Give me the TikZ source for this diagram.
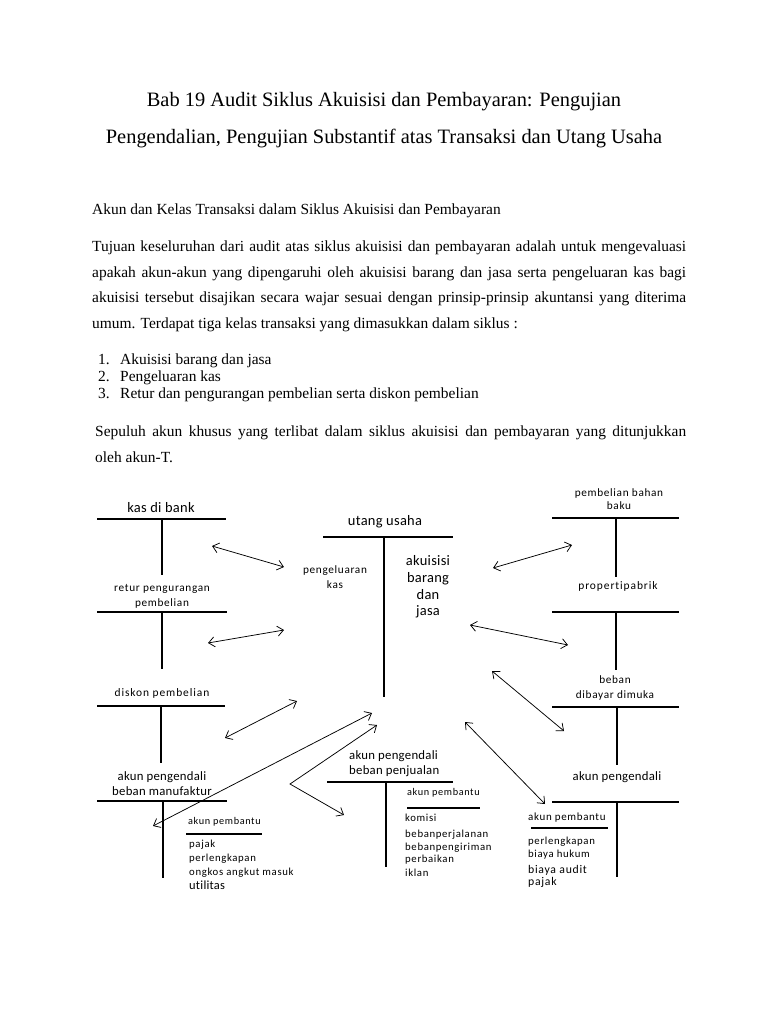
\documentclass[tikz,border=0pt]{standalone}
\usepackage{fontspec}
\setmainfont{Liberation Serif}
\newfontfamily\labA[LetterSpace=2,Ligatures={NoCommon}]{Carlito}
\newfontfamily\labB[LetterSpace=6,Ligatures={NoCommon}]{Carlito}
\newfontfamily\labC[LetterSpace=8,Ligatures={NoCommon}]{Carlito}
\usetikzlibrary{arrows.meta}
\tikzset{
  titletxt/.style={inner sep=0pt, anchor=base, font=\fontsize{20.5}{24}\selectfont},
  bodytxt/.style={inner sep=0pt, anchor=base west, font=\fontsize{15.5}{18}\selectfont},
  biglbl/.style={inner sep=0pt, anchor=mid, font=\labA\fontsize{14.5}{16}\selectfont},
  medlbl/.style={inner sep=0pt, anchor=mid, font=\labA\fontsize{12.8}{15}\selectfont},
  smalllbl/.style={inner sep=0pt, anchor=mid, font=\labB\fontsize{11.3}{13}\selectfont},
  subhead/.style={inner sep=0pt, anchor=mid west, font=\labB\fontsize{10.3}{12}\selectfont},
  itemlbl/.style={inner sep=0pt, anchor=mid west, font=\labB\fontsize{10.8}{12}\selectfont},
  tline/.style={line width=1.6bp},
  sline/.style={line width=1.3bp},
  arr/.style={line width=0.75bp, {Straight Barb[length=6bp,width=10bp]}-{Straight Barb[length=6bp,width=10bp]}}
}
\begin{document}
\begin{tikzpicture}[x=1bp,y=-1bp]
\useasboundingbox (0,0) rectangle (768,1024);
\fill[white] (0,0) rectangle (768,1024);

% ---------------- header text ----------------
\node[titletxt] (t1) at (384,106) {Bab 19 Audit Siklus Akuisisi dan Pembayaran: Pengujian};
\node[titletxt] (t2) at (384,143) {Pengendalian, Pengujian Substantif atas Transaksi dan Utang Usaha};

\node[bodytxt] (sub) at (92,214) {Akun dan Kelas Transaksi dalam Siklus Akuisisi dan Pembayaran};

\node[bodytxt] (p1) at (92,251) {\makebox[594bp][s]{Tujuan keseluruhan dari audit atas siklus akuisisi dan pembayaran adalah untuk mengevaluasi}};
\node[bodytxt] (p2) at (92,277) {\makebox[594bp][s]{apakah akun-akun yang dipengaruhi oleh akuisisi barang dan jasa serta pengeluaran kas bagi}};
\node[bodytxt] (p3) at (92,302) {\makebox[594bp][s]{akuisisi tersebut disajikan secara wajar sesuai dengan prinsip-prinsip akuntansi yang diterima}};
\node[bodytxt] (p4) at (92,328) {umum. Terdapat tiga kelas transaksi yang dimasukkan dalam siklus :};

\node[bodytxt] (n1) at (98,364) {1.};
\node[bodytxt] (l1) at (120,364) {Akuisisi barang dan jasa};
\node[bodytxt] (n2) at (98,381) {2.};
\node[bodytxt] (l2) at (120,381) {Pengeluaran kas};
\node[bodytxt] (n3) at (98,398) {3.};
\node[bodytxt] (l3) at (120,398) {Retur dan pengurangan pembelian serta diskon pembelian};

\node[bodytxt] (s1) at (95,436) {\makebox[591bp][s]{Sepuluh akun khusus yang terlibat dalam siklus akuisisi dan pembayaran yang ditunjukkan}};
\node[bodytxt] (s2) at (95,462) {oleh akun-T.};

% ---------------- left column T-accounts ----------------
\node[biglbl] (kas) at (161,510) {kas di bank};
\draw[tline] (97,519) -- (226,519);
\draw[tline] (162,519) -- (162,575);

\node[smalllbl] (ret1) at (162,589) {retur pengurangan};
\node[smalllbl] (ret2) at (162,604) {pembelian};
\draw[tline] (97,612) -- (227,612);
\draw[tline] (162,612) -- (162,669);

\node[smalllbl, font=\labC\fontsize{11.5}{13}\selectfont] (disk) at (162,694) {diskon pembelian};
\draw[tline] (97,706) -- (225,706);
\draw[tline] (161,706) -- (161,763);

\node[medlbl] (man1) at (162,778) {akun pengendali};
\node[medlbl] (man2) at (162,793) {beban manufaktur};
\draw[tline] (97,801) -- (227,801);
\draw[tline] (163,801) -- (163,878);

\node[subhead] (lpb) at (188,822) {akun pembantu};
\draw[sline] (186,834) -- (262,834);
\node[itemlbl] (li1) at (189,845) {pajak};
\node[itemlbl] (li2) at (189,859) {perlengkapan};
\node[itemlbl] (li3) at (189,873) {ongkos angkut masuk};
\node[itemlbl, font=\labA\fontsize{12.5}{14}\selectfont] (li4) at (189,887) {utilitas};

% ---------------- centre T-account ----------------
\node[biglbl] (utang) at (385,523) {utang usaha};
\draw[tline] (323,537) -- (453,537);
\draw[tline] (384,537) -- (384,697);

\node[smalllbl] (pk1) at (335,571) {pengeluaran};
\node[smalllbl] (pk2) at (335,586) {kas};
\node[biglbl] (ak1) at (428,563) {akuisisi};
\node[biglbl] (ak2) at (428,580) {barang};
\node[biglbl] (ak3) at (428,597) {dan};
\node[biglbl] (ak4) at (428,613) {jasa};

% ---------------- middle bottom T-account ----------------
\node[medlbl, anchor=mid west] (pj1) at (349,757) {akun pengendali};
\node[medlbl, anchor=mid west] (pj2) at (349,772) {beban penjualan};
\draw[tline] (327,782) -- (453,782);
\draw[tline] (386,782) -- (386,867);

\node[subhead] (mpb) at (407,793) {akun pembantu};
\draw[sline] (407,808) -- (480,808);
\node[itemlbl] (mi1) at (405,819) {komisi};
\node[itemlbl] (mi2) at (405,835) {bebanperjalanan};
\node[itemlbl] (mi3) at (405,848) {bebanpengiriman};
\node[itemlbl] (mi4) at (405,860) {perbaikan};
\node[itemlbl] (mi5) at (405,874) {iklan};

% ---------------- right column T-accounts ----------------
\node[smalllbl] (pb1) at (619,494) {pembelian bahan};
\node[smalllbl] (pb2) at (619,507) {baku};
\draw[tline] (552,518) -- (679,518);
\draw[tline] (616,518) -- (616,577);

\node[smalllbl, font=\labC\fontsize{11.5}{13}\selectfont] (prop) at (618,587) {propertipabrik};
\draw[tline] (552,612) -- (679,612);
\draw[tline] (616,612) -- (616,670);

\node[smalllbl] (bb1) at (615,681) {beban};
\node[smalllbl] (bb2) at (615,696) {dibayar dimuka};
\draw[tline] (552,707) -- (679,707);
\draw[tline] (617,707) -- (617,765);

\node[medlbl] (rpe) at (617,778) {akun pengendali};
\draw[tline] (552,802) -- (679,802);
\draw[tline] (617,802) -- (617,877);

\node[itemlbl, font=\labB\fontsize{11}{13}\selectfont] (rpb) at (528,818) {akun pembantu};
\draw[sline] (531,828) -- (608,828);
\node[itemlbl] (ri1) at (528,842) {perlengkapan};
\node[itemlbl] (ri2) at (528,855) {biaya hukum};
\node[itemlbl, font=\labB\fontsize{11.8}{13}\selectfont] (ri3) at (528,871) {biaya audit};
\node[itemlbl, font=\labB\fontsize{11.8}{13}\selectfont] (ri4) at (528,883) {pajak};

% ---------------- connector end points ----------------
\coordinate (a1s) at (212,546); \coordinate (a1e) at (284,567);
\coordinate (a2s) at (208,643); \coordinate (a2e) at (284,630);
\coordinate (a3s) at (493,568); \coordinate (a3e) at (572,545);
\coordinate (a4s) at (470,625); \coordinate (a4e) at (568,645);
\coordinate (a5s) at (492,671); \coordinate (a5e) at (564,731);
\coordinate (a6s) at (465,722); \coordinate (a6e) at (545,804);
\coordinate (a7s) at (225,738); \coordinate (a7e) at (297,701);
\coordinate (a8s) at (153,826); \coordinate (a8e) at (372,713);
\coordinate (a9s) at (377,725); \coordinate (a9m) at (290,784); \coordinate (a9e) at (344,815);

\draw[arr] (a1s) -- (a1e);
\draw[arr] (a2s) -- (a2e);
\draw[arr] (a3s) -- (a3e);
\draw[arr] (a4s) -- (a4e);
\draw[arr] (a5s) -- (a5e);
\draw[arr] (a6s) -- (a6e);
\draw[arr] (a7s) -- (a7e);
\draw[arr] (a8s) -- (a8e);
\draw[arr] (a9s) -- (a9m) -- (a9e);
\end{tikzpicture}
\end{document}
